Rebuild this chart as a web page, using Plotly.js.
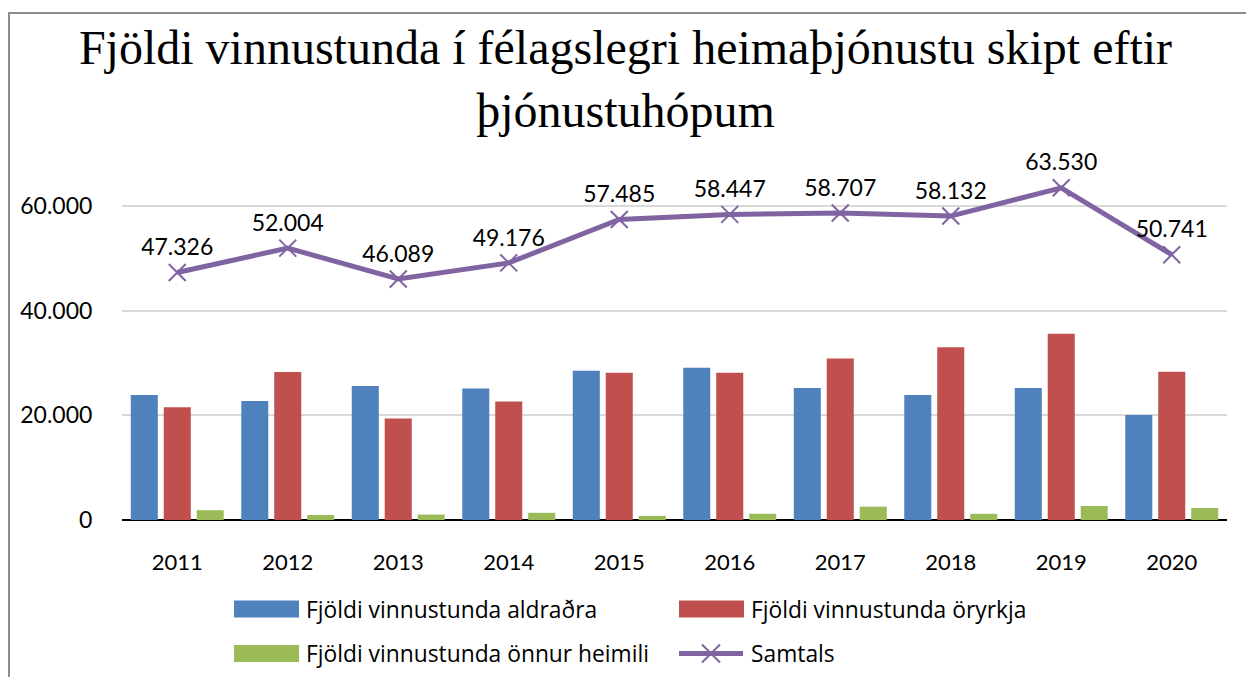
<!DOCTYPE html>
<html>
<head>
<meta charset="utf-8">
<script src="https://cdn.plot.ly/plotly-3.0.1.min.js"></script>
<style>
html,body{margin:0;padding:0;background:#fff;overflow:hidden;}
#chart{width:1246px;height:677px;}
#frame{position:absolute;left:8px;top:12px;width:1260px;height:700px;border:2px solid #8c8c8c;pointer-events:none;box-sizing:border-box;}
</style>
</head>
<body>
<div id="chart"></div>
<div id="frame"></div>
<script>
var years = ['2011','2012','2013','2014','2015','2016','2017','2018','2019','2020'];
var aldradra = [23900, 22750, 25650, 25150, 28550, 29100, 25250, 23900, 25250, 20100];
var oryrkja  = [21550, 28300, 19400, 22650, 28150, 28150, 30900, 33050, 35600, 28350];
var onnur    = [1876, 954, 1039, 1376, 785, 1197, 2557, 1182, 2680, 2291];
var samtals  = [47326, 52004, 46089, 49176, 57485, 58447, 58707, 58132, 63530, 50741];
var names = ['Fjöldi vinnustunda aldraðra','Fjöldi vinnustunda öryrkja','Fjöldi vinnustunda önnur heimili','Samtals'];
var yTicks = [0, 20000, 40000, 60000];
var titleText = 'Fjöldi vinnustunda í félagslegri heimaþjónustu skipt eftir<br>þjónustuhópum';

var colors = ['#4F81BD','#C0504D','#9BBB59','#8064A2'];
var font = 'Lato, "Open Sans", sans-serif';
var legendFont = '"Open Sans", Lato, sans-serif';

var traces = [
  {type:'bar', x:years, y:aldradra, name:names[0], marker:{color:colors[0]}, showlegend:false},
  {type:'bar', x:years, y:oryrkja, name:names[1], marker:{color:colors[1]}, showlegend:false},
  {type:'bar', x:years, y:onnur, name:names[2], marker:{color:colors[2]}, showlegend:false},
  {type:'scatter', mode:'lines+markers+text', x:years, y:samtals, name:names[3],
   line:{color:colors[3], width:5},
   marker:{symbol:'x-thin', size:17, color:colors[3], line:{color:colors[3], width:2}},
   texttemplate:'%{y:,.0f}', textposition:'top center', textfont:{family:font, size:23, color:'#000'},
   showlegend:false, cliponaxis:false}
];

// plot area in pixels
var L = 122, R = 1227, T = 154, B = 520;
function px(x){ return (x - L)/(R - L); }
function py(y){ return (B - y)/(B - T); }

var shapes = [];
var annotations = [];
var legendPos = [[234, 609],[679, 609],[234, 653.5],[679, 653.5]];
for (var i = 0; i < 4; i++) {
  var lx = legendPos[i][0], ly = legendPos[i][1];
  if (i < 3) {
    shapes.push({type:'rect', xref:'paper', yref:'paper', x0:px(lx), x1:px(lx+65), y0:py(ly+8.5), y1:py(ly-8.5),
      fillcolor:colors[i], line:{width:0}});
  } else {
    shapes.push({type:'line', xref:'paper', yref:'paper', x0:px(lx), x1:px(lx+64), y0:py(ly), y1:py(ly),
      line:{color:colors[i], width:5}});
    shapes.push({type:'line', xref:'paper', yref:'paper', x0:px(lx+23), x1:px(lx+41), y0:py(ly-9), y1:py(ly+9),
      line:{color:colors[i], width:2}});
    shapes.push({type:'line', xref:'paper', yref:'paper', x0:px(lx+23), x1:px(lx+41), y0:py(ly+9), y1:py(ly-9),
      line:{color:colors[i], width:2}});
  }
  annotations.push({xref:'paper', yref:'paper', x:px(lx+70), y:py(ly), xanchor:'left', yanchor:'middle',
    text:names[i], showarrow:false, font:{family:legendFont, size:22.8, color:'#000'}});
}

var layout = {
  width:1246, height:677,
  separators:',.',
  paper_bgcolor:'#fff', plot_bgcolor:'#fff',
  margin:{l:L, r:1246-R, t:T, b:677-B, pad:0},
  title:{text:titleText, font:{family:'"Liberation Serif", "Times New Roman", serif', size:48, color:'#000'},
    x:0.502, xanchor:'center', y:0.905, yanchor:'top', yref:'container'},
  barmode:'group', bargap:0.105, bargroupgap:0.18,
  font:{family:font, size:22, color:'#000'},
  xaxis:{type:'category', range:[-0.5, 9.5], showgrid:false, zeroline:false, showline:false,
    ticks:'outside', ticklen:23, tickcolor:'rgba(0,0,0,0)', tickfont:{family:font, size:22, color:'#000'}},
  yaxis:{range:[0,70000], tickvals:yTicks, tickformat:',d', showgrid:true, gridcolor:'#d9d9d9', gridwidth:2,
    zeroline:true, zerolinecolor:'#000', zerolinewidth:2.5, showline:false,
    ticks:'outside', ticklen:24, tickcolor:'rgba(0,0,0,0)', tickfont:{family:font, size:23, color:'#000'}},
  shapes:shapes,
  annotations:annotations,
  showlegend:false
};

Plotly.newPlot('chart', traces, layout, {displayModeBar:false, staticPlot:true});
</script>
</body>
</html>
